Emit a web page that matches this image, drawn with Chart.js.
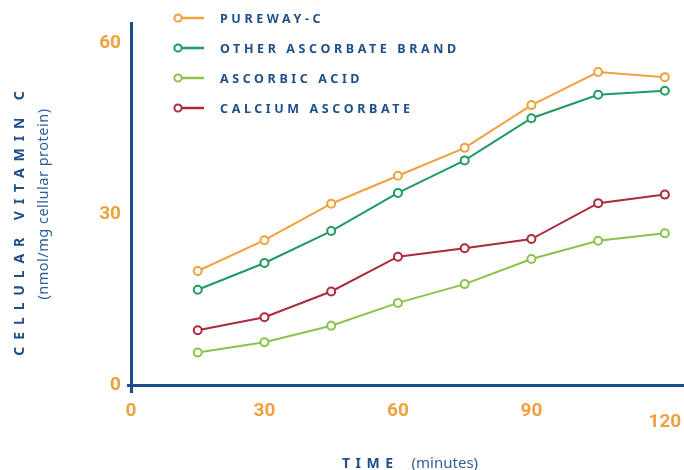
<!DOCTYPE html>
<html>
<head>
<meta charset="utf-8">
<script src="https://cdn.jsdelivr.net/npm/chart.js@4/dist/chart.umd.min.js"></script>
<style>
  html, body { margin: 0; padding: 0; background: #fff; }
  #wrap { position: relative; width: 684px; height: 470px; overflow: hidden; font-family: "Noto Sans", Roboto, sans-serif; }
  #chart { position: absolute; left: 0; top: 0; }
  #legend { position: absolute; left: 172px; top: 3px; }
  .item { display: flex; align-items: center; height: 30px; }
  .item span { margin-left: 8px; font: bold 12.5px "Noto Sans", sans-serif; letter-spacing: 3.6px; color: #1f4f8a; }
  .ytitle { position: absolute; transform: translate(-50%, -50%) rotate(-90deg); white-space: nowrap; color: #1f4f8a; }
  #yt1 { left: 18px; top: 220px; font: bold 14px "Noto Sans", sans-serif; letter-spacing: 6.9px; }
  #yt2 { left: 42px; top: 204px; font: 14.5px "Noto Sans", sans-serif; letter-spacing: 0.5px; color: #2e5e99; }
  #xt { position: absolute; left: 342px; top: 451px; color: #1f4f8a; white-space: nowrap; }
  #xt b { font: bold 14px "Noto Sans", sans-serif; letter-spacing: 5.5px; }
  #xt i { font: normal 15px "Noto Sans", sans-serif; font-style: normal; color: #2e5e99; margin-left: 13px; }
</style>
</head>
<body>
<div id="wrap">
  <canvas id="chart" width="684" height="470"></canvas>
  <div id="legend"></div>
  <div class="ytitle" id="yt1">CELLULAR VITAMIN C</div>
  <div class="ytitle" id="yt2">(nmol/mg cellular protein)</div>
  <div id="xt"><b>TIME</b><i>(minutes)</i></div>
</div>
<script>
// Data
const times = [15, 30, 45, 60, 75, 90, 105, 120];
const seriesNames = ['PUREWAY-C', 'OTHER ASCORBATE BRAND', 'ASCORBIC ACID', 'CALCIUM ASCORBATE'];
const purewayC = [20.0, 25.4, 31.8, 36.7, 41.6, 49.1, 54.9, 54.0];
const otherBrand = [16.7, 21.4, 27.0, 33.7, 39.4, 46.8, 50.9, 51.6];
const ascorbicAcid = [5.7, 7.5, 10.4, 14.4, 17.7, 22.1, 25.3, 26.6];
const calciumAscorbate = [9.6, 11.9, 16.4, 22.5, 24.0, 25.6, 31.9, 33.4];
const xTicks = [0, 30, 60, 90, 120];
const yTicks = [0, 30, 60];

const colors = ['#f0a13e', '#1f9a62', '#8cc14c', '#ac2a3d'];
const allValues = [purewayC, otherBrand, ascorbicAcid, calciumAscorbate];
const axisBlue = '#1d4e8c';
const tickOrange = '#f0a13e';

const datasets = seriesNames.map((name, i) => ({
    label: name,
    data: times.map((t, j) => ({ x: t, y: allValues[i][j] })),
    borderColor: colors[i],
    backgroundColor: '#ffffff',
    pointBorderColor: colors[i],
    pointBackgroundColor: '#ffffff',
    borderWidth: 2,
    pointRadius: 4,
    pointBorderWidth: 2,
    tension: 0
}));

// legend drawn as html so letter spacing works
const legend = document.getElementById('legend');
seriesNames.forEach((name, i) => {
    const row = document.createElement('div');
    row.className = 'item';
    row.innerHTML = '<svg width="40" height="12"><line x1="10" y1="6" x2="32" y2="6" stroke="' + colors[i] +
        '" stroke-width="2.5"/><circle cx="6" cy="6" r="3.6" fill="#fff" stroke="' + colors[i] +
        '" stroke-width="2"/></svg><span>' + name + '</span>';
    legend.appendChild(row);
});

const tickFont = { family: '"Liberation Sans Narrow", Roboto, sans-serif', size: 19, weight: 'bold' };
// only the origin gets a little tick mark
const originTick = (ctx) => ctx.tick && ctx.tick.value === 0 ? axisBlue : 'rgba(0,0,0,0)';

new Chart(document.getElementById('chart').getContext('2d'), {
    type: 'line',
    data: { datasets: datasets },
    options: {
        responsive: false,
        animation: false,
        layout: { autoPadding: false, padding: { top: 23, right: 0, left: 0, bottom: 0 } },
        plugins: { legend: { display: false }, tooltip: { enabled: false } },
        scales: {
            x: {
                type: 'linear',
                min: 0,
                max: 124.3,
                grid: { display: true, drawOnChartArea: false, tickLength: 8, lineWidth: 3, color: originTick },
                border: { display: true, color: axisBlue, width: 3 },
                afterFit: (scale) => { scale.height = 85; scale.paddingLeft = 0; scale.paddingRight = 0; },
                afterBuildTicks: (scale) => { scale.ticks = xTicks.map(v => ({ value: v })); },
                ticks: {
                    color: tickOrange,
                    font: Object.assign({ lineHeight: 0.62 }, tickFont),
                    padding: 12,
                    maxRotation: 0,
                    autoSkip: false,
                    callback: (v) => v === 120 ? ['', String(v)] : String(v)
                }
            },
            y: {
                min: 0,
                max: 63.5,
                grid: { display: true, drawOnChartArea: false, tickLength: 4, lineWidth: 3, color: originTick },
                border: { display: true, color: axisBlue, width: 3 },
                afterFit: (scale) => { scale.width = 131; },
                afterBuildTicks: (scale) => { scale.ticks = yTicks.map(v => ({ value: v })); },
                ticks: {
                    color: tickOrange,
                    font: tickFont,
                    padding: 6
                }
            }
        }
    }
});
</script>
</body>
</html>
